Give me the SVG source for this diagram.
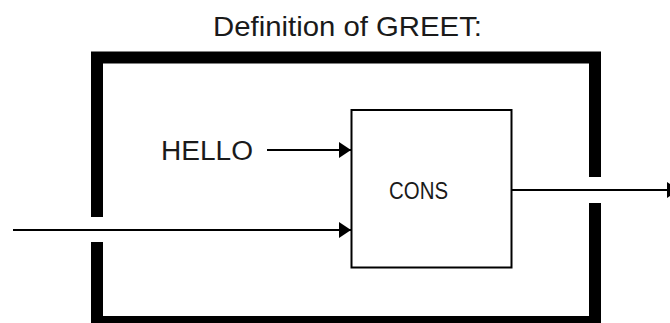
<svg xmlns="http://www.w3.org/2000/svg" width="670" height="323" viewBox="0 0 670 323">
<style>
  text { font-family: "Liberation Sans", Arial, sans-serif; fill: #1a1a1a; }
  .wall { fill: none; stroke: #000; stroke-width: 12; stroke-linejoin: miter; stroke-linecap: butt; }
  .line { fill: none; stroke: #000; stroke-width: 2; }
  .box { fill: #fff; stroke: #000; stroke-width: 2; }
</style>
<defs>
  <marker id="arr" viewBox="0 0 12 16" refX="12" refY="8" markerWidth="12" markerHeight="16" markerUnits="userSpaceOnUse" orient="auto">
    <path d="M0,0 L12,8 L0,16 Z" fill="#000"/>
  </marker>
</defs>
<text x="213" y="36" font-size="28" textLength="269" lengthAdjust="spacingAndGlyphs">Definition of GREET:</text>
<g id="frame">
  <path class="wall" d="M97,217 V57.5 H595 V177"/>
  <path class="wall" d="M595,203 V322 H97 V242"/>
</g>
<g id="cons">
  <rect class="box" x="351.5" y="110" width="160" height="157.5"/>
  <text x="389" y="199" font-size="24" textLength="59" lengthAdjust="spacingAndGlyphs">CONS</text>
</g>
<g id="hello">
  <text x="161" y="160" font-size="27" textLength="92" lengthAdjust="spacingAndGlyphs">HELLO</text>
</g>
<g id="connectors">
  <line class="line" x1="267" y1="150" x2="351" y2="150" marker-end="url(#arr)"/>
  <line class="line" x1="13" y1="230" x2="351" y2="230" marker-end="url(#arr)"/>
  <line class="line" x1="512" y1="190" x2="679" y2="190" marker-end="url(#arr)"/>
</g>
</svg>
